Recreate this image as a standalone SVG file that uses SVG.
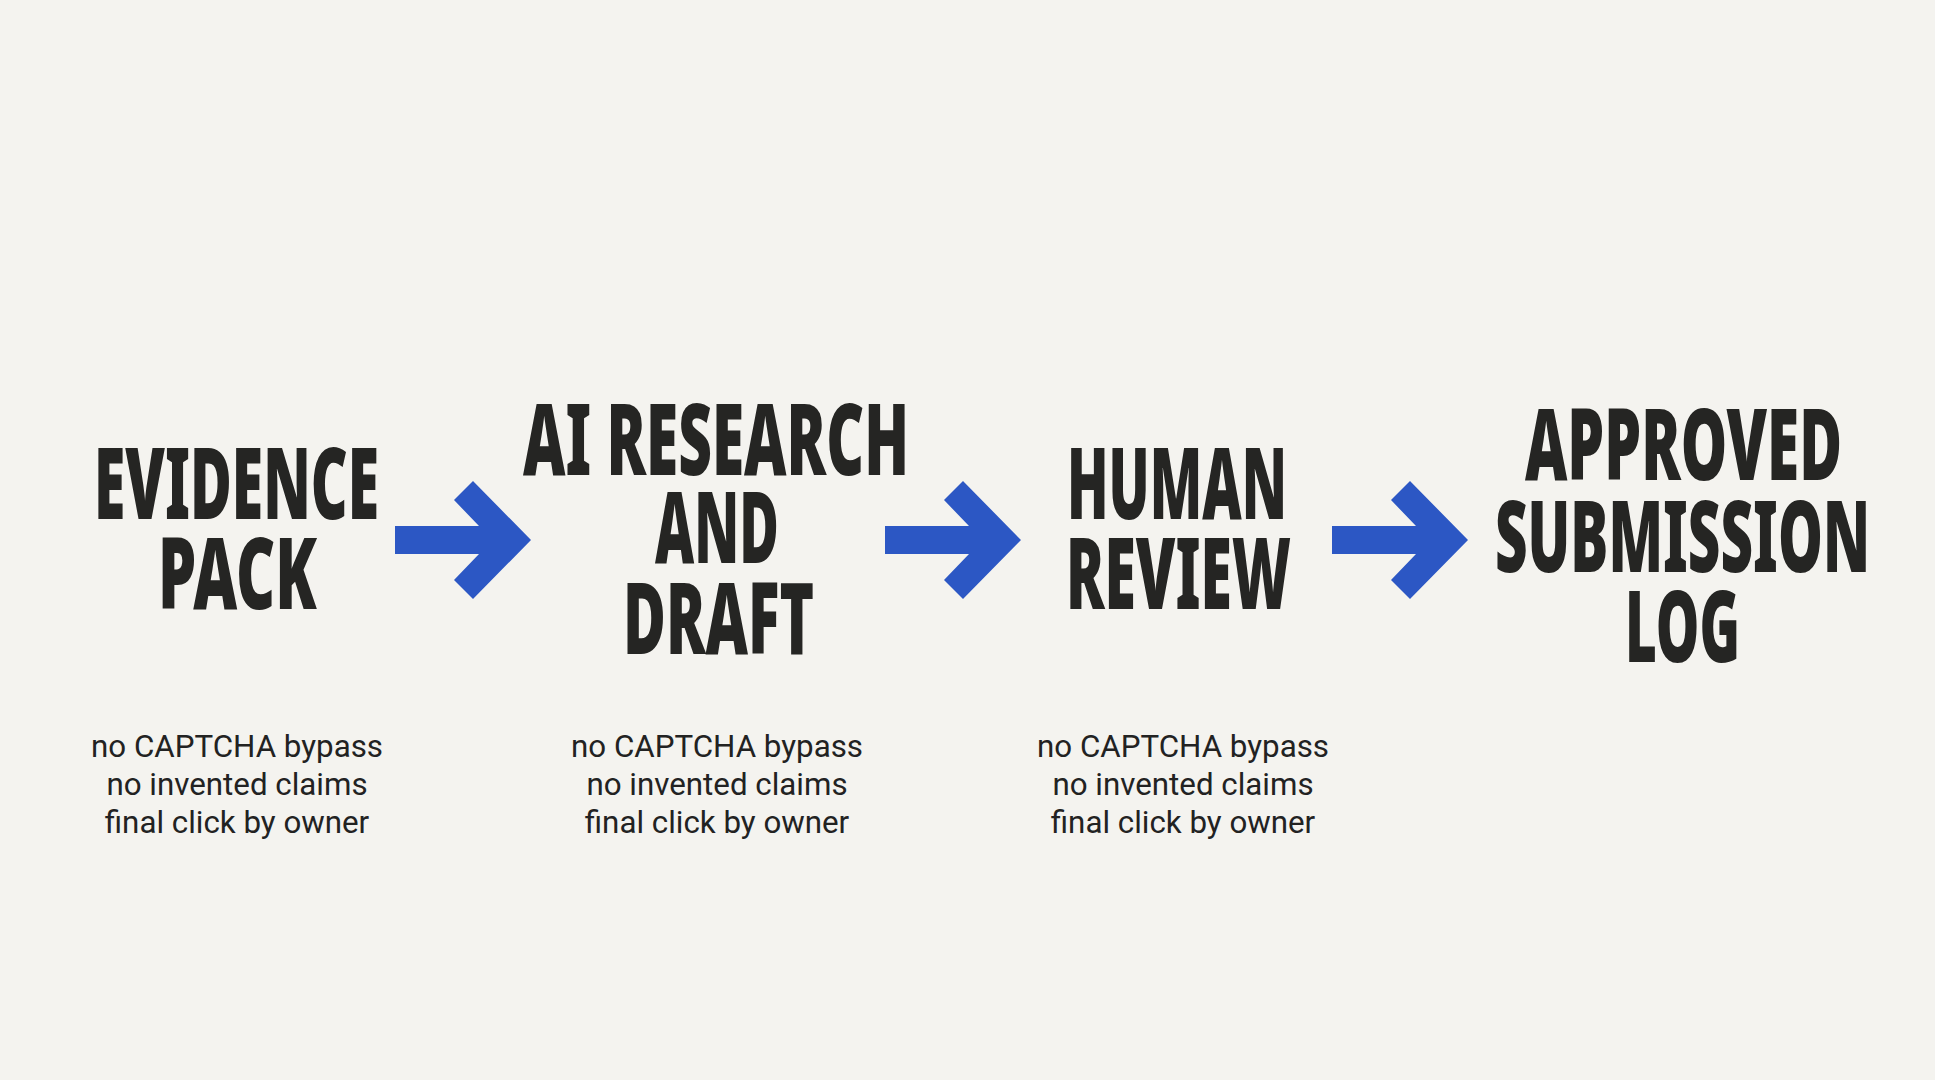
<svg xmlns="http://www.w3.org/2000/svg" width="1935" height="1080" viewBox="0 0 1935 1080">
  <defs>
    <style>
      .title { font-family: "Noto Sans", "Open Sans", "Liberation Sans", sans-serif; font-stretch: 62.5%; font-weight: 900; font-size: 100px; fill: #252523; }
      .note { font-family: Roboto, "Liberation Sans", sans-serif; font-size: 31.3px; fill: #222222; text-anchor: middle; }
      .arrow { fill: #2C57C4; }
    </style>
    <polygon id="arrowShape" points="395,526 479,526 454,500 473,481 531,540 473,599 454,580 479,554 395,554"/>
  </defs>
  <rect x="0" y="0" width="1935" height="1080" fill="#F4F3EF"/>

  <g id="connectors">
    <use href="#arrowShape" class="arrow"/>
    <use href="#arrowShape" class="arrow" transform="translate(490,0)"/>
    <use href="#arrowShape" class="arrow" transform="translate(937,0)"/>
  </g>

  <g id="node-evidence-pack">
    <text class="title" x="94" y="519" textLength="285" lengthAdjust="spacingAndGlyphs">EVIDENCE</text>
    <text class="title" x="158" y="609" textLength="159" lengthAdjust="spacingAndGlyphs">PACK</text>
    <text class="note" x="237" y="757">no CAPTCHA bypass</text>
    <text class="note" x="237" y="795">no invented claims</text>
    <text class="note" x="237" y="833">final click by owner</text>
  </g>

  <g id="node-ai-research">
    <text class="title" x="523" y="475" textLength="386" lengthAdjust="spacingAndGlyphs">AI RESEARCH</text>
    <text class="title" x="655" y="563" textLength="124" lengthAdjust="spacingAndGlyphs">AND</text>
    <text class="title" x="623" y="654" textLength="191" lengthAdjust="spacingAndGlyphs">DRAFT</text>
    <text class="note" x="717" y="757">no CAPTCHA bypass</text>
    <text class="note" x="717" y="795">no invented claims</text>
    <text class="note" x="717" y="833">final click by owner</text>
  </g>

  <g id="node-human-review">
    <text class="title" x="1067" y="519" textLength="220" lengthAdjust="spacingAndGlyphs">HUMAN</text>
    <text class="title" x="1066" y="609" textLength="225" lengthAdjust="spacingAndGlyphs">REVIEW</text>
    <text class="note" x="1183" y="757">no CAPTCHA bypass</text>
    <text class="note" x="1183" y="795">no invented claims</text>
    <text class="note" x="1183" y="833">final click by owner</text>
  </g>

  <g id="node-approved-log">
    <text class="title" x="1525" y="480" textLength="317" lengthAdjust="spacingAndGlyphs">APPROVED</text>
    <text class="title" x="1495" y="572" textLength="375" lengthAdjust="spacingAndGlyphs">SUBMISSION</text>
    <text class="title" x="1625" y="662" textLength="115" lengthAdjust="spacingAndGlyphs">LOG</text>
  </g>
</svg>
